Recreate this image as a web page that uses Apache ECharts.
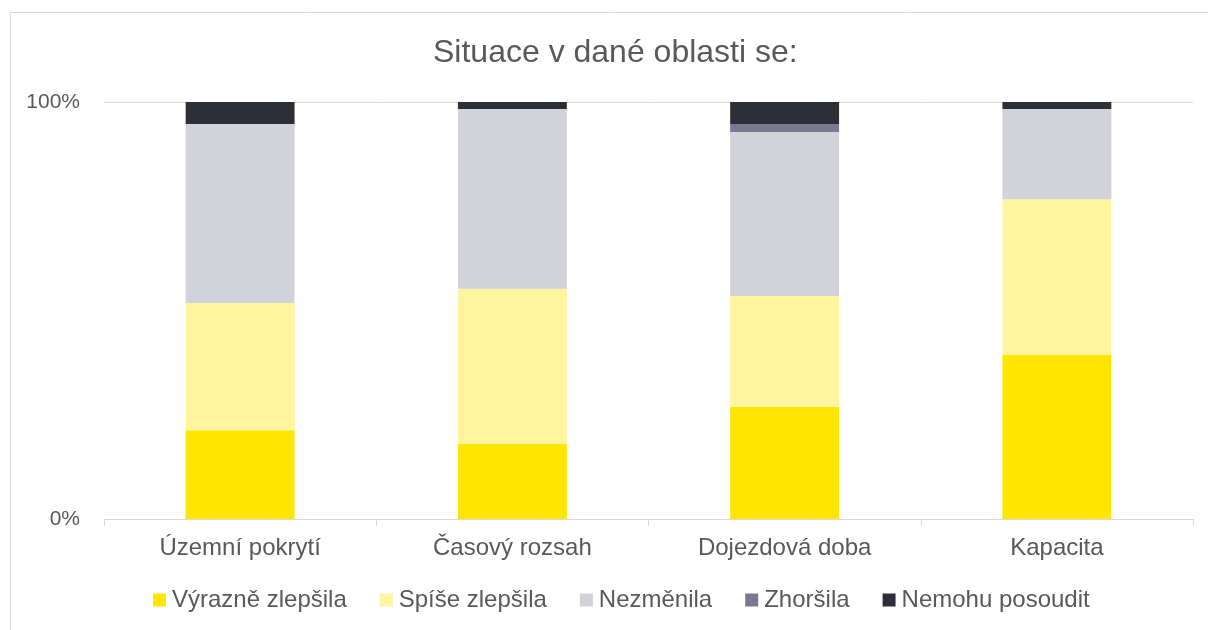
<!DOCTYPE html>
<html>
<head>
<meta charset="utf-8">
<script src="https://cdn.jsdelivr.net/npm/echarts@6/dist/echarts.min.js"></script>
<style>
html,body{margin:0;padding:0;background:#fff;}
#chart{width:1208px;height:630px;}
</style>
</head>
<body>
<div id="chart"></div>
<script>
const title = 'Situace v dané oblasti se:';
const categories = ['Územní pokrytí', 'Časový rozsah', 'Dojezdová doba', 'Kapacita'];
const seriesNames = ['Výrazně zlepšila', 'Spíše zlepšila', 'Nezměnila', 'Zhoršila', 'Nemohu posoudit'];
const vyrazne = [21.3, 18.0, 26.9, 39.3];
const spise = [30.5, 37.2, 26.6, 37.4];
const nezmenila = [42.9, 43.1, 39.3, 21.6];
const zhorsila = [0, 0, 1.9, 0];
const nemohu = [5.3, 1.7, 5.3, 1.7];
const colors = ['#FFE600', '#FFF59E', '#D2D2DA', '#7A7990', '#2E2E38'];
const values = [vyrazne, spise, nezmenila, zhorsila, nemohu];

const font = '"Liberation Sans", Arial, sans-serif';
const chart = echarts.init(document.getElementById('chart'));
chart.setOption({
  animation: false,
  color: colors,
  graphic: [{
    type: 'rect',
    shape: {x: 10.5, y: 12.5, width: 1400, height: 800},
    style: {fill: 'none', stroke: '#D9D9D9', lineWidth: 1},
    silent: true
  }],
  title: {
    text: title,
    left: 433,
    top: 37,
    padding: 0,
    textStyle: {fontFamily: font, fontSize: 32, fontWeight: 'normal', color: '#595959'}
  },
  legend: {
    data: seriesNames,
    left: 153,
    top: 588,
    padding: 0,
    itemWidth: 13,
    itemHeight: 13,
    itemGap: 33,
    icon: 'rect',
    textStyle: {fontFamily: font, fontSize: 24, color: '#595959', padding: [0, 0, 0, 1]}
  },
  grid: {left: 104, right: 15, top: 102, bottom: 111, containLabel: false},
  xAxis: {
    type: 'category',
    data: categories,
    axisLine: {lineStyle: {color: '#D9D9D9', width: 1}},
    axisTick: {show: true, length: 7, lineStyle: {color: '#D9D9D9'}},
    axisLabel: {fontFamily: font, fontSize: 24, color: '#595959', margin: 17}
  },
  yAxis: {
    type: 'value',
    min: 0,
    max: 100,
    interval: 100,
    axisLine: {show: false},
    axisTick: {show: false},
    splitLine: {lineStyle: {color: '#D9D9D9', width: 1}},
    axisLabel: {formatter: '{value}%', fontFamily: font, fontSize: 21, color: '#595959', margin: 24}
  },
  series: seriesNames.map((n, i) => ({
    name: n,
    type: 'bar',
    stack: 'total',
    barWidth: '40%',
    data: values[i]
  }))
});
</script>
</body>
</html>
